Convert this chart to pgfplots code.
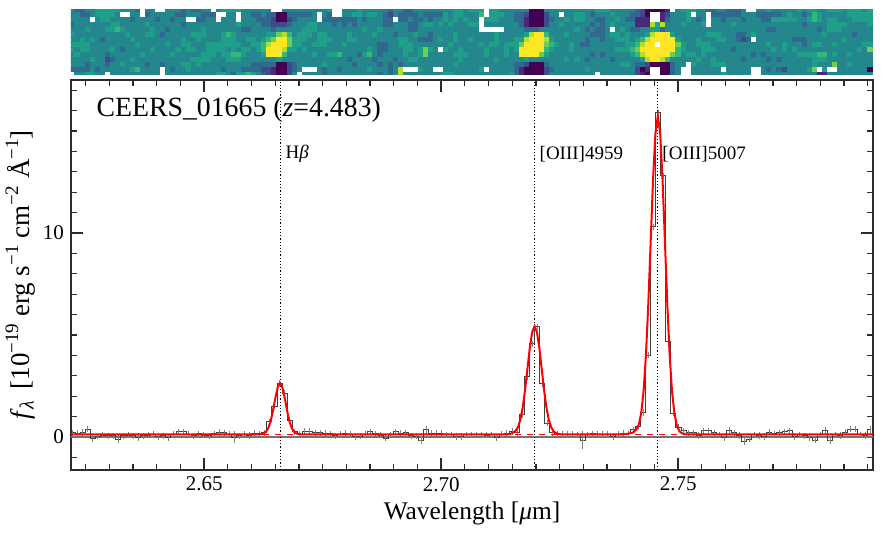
\documentclass[border=0pt]{standalone}
\usepackage{fontspec}
\setmainfont{Liberation Serif}
\usepackage{pgfplots}
\usepackage{pgfplotstable}
\pgfplotsset{compat=1.18}
\definecolor{axisgray}{HTML}{2B2B2B}

% 2D spectrum: one line per image column, r0 is the top row, 10 = no data (white)
\pgfplotstableread{
j r0 r1 r2 r3 r4 r5 r6 r7 r8 r9 r10 r11 r12 r13
0 4 4 4 3 4 5 4 5 5 4 4 4 3 10
1 3 4 4 4 4 4 4 5 4 5 4 4 3 4
2 3 3 4 4 4 4 5 5 5 4 4 4 3 4
3 4 3 4 4 5 4 4 5 5 4 4 3 3 5
4 4 4 10 4 4 4 5 4 4 4 5 4 4 5
5 5 5 4 4 4 4 4 4 4 4 4 4 3 4
6 5 5 5 4 4 4 3 4 4 4 4 4 4 4
7 5 5 5 4 5 4 4 4 4 3 2 3 4 10
8 5 5 4 5 5 4 4 4 5 4 3 4 4 4
9 5 4 4 5 6 4 4 4 4 4 4 4 4 4
10 4 10 4 4 5 4 4 4 3 4 4 5 4 4
11 4 10 4 4 4 5 4 4 4 4 4 4 4 4
12 4 4 3 4 4 4 5 4 4 4 5 4 5 4
13 3 4 4 4 4 4 4 5 4 4 4 4 6 4
14 10 10 4 4 4 4 4 4 4 5 4 4 4 4
15 4 3 4 5 4 5 4 4 4 4 4 3 4 4
16 4 4 4 4 5 5 4 4 5 4 4 4 4 4
17 10 4 3 4 4 4 4 4 4 4 4 4 4 4
18 10 4 4 4 4 3 4 4 4 4 4 3 10 10
19 4 4 4 4 3 4 4 5 4 4 4 4 4 4
20 4 4 3 4 4 4 4 4 4 5 4 4 3 4
21 4 3 4 4 4 4 4 4 5 4 4 4 4 4
22 3 3 4 3 4 4 5 5 4 4 4 5 4 4
23 4 4 10 4 4 4 4 5 5 4 4 5 5 4
24 3 4 10 4 4 5 4 4 5 4 5 4 4 4
25 3 4 3 4 4 5 5 4 4 4 5 5 4 4
26 4 3 3 4 5 5 4 4 4 5 5 4 4 4
27 4 3 4 4 4 4 4 5 5 5 5 4 4 4
28 10 3 4 4 4 4 4 5 5 5 4 4 4 4
29 4 10 10 4 4 4 4 5 5 4 4 4 4 5
30 5 10 4 4 4 5 5 5 5 5 4 4 3 5
31 5 4 4 4 4 6 5 5 4 5 5 4 4 4
32 5 4 4 4 4 5 5 5 5 6 5 4 4 3
33 5 10 10 5 4 4 4 5 4 6 5 4 4 5
34 4 4 4 4 3 4 4 4 5 5 4 4 3 5
35 4 4 4 4 3 4 5 4 5 4 4 4 3 6
36 4 3 4 4 4 4 5 5 4 4 4 3 3 5
37 4 3 3 4 4 4 4 5 5 4 4 3 3 4
38 4 4 3 3 4 4 5 6 6 5 4 3 2 3
39 4 3 3 3 4 5 6 8 9 9 4 3 2 2
40 10 3 2 2 3 5 7 9 9 9 4 3 1 1
41 10 0 0 2 4 7 9 9 9 9 5 0 0 0
42 4 0 0 2 4 8 9 9 8 6 4 0 0 0
43 4 3 2 3 4 6 7 7 5 4 4 2 2 2
44 4 3 3 4 4 4 5 5 5 4 4 3 3 4
45 4 3 4 4 4 5 5 5 4 4 4 4 4 10
46 4 3 4 4 5 5 5 4 5 4 4 4 10 4
47 4 3 4 5 5 5 4 4 4 4 4 4 10 4
48 4 4 4 5 5 4 4 5 4 5 4 4 10 4
49 4 10 10 4 4 5 5 5 4 4 4 4 4 4
50 4 4 3 4 4 5 5 5 4 4 4 5 3 3
51 5 3 3 4 4 4 5 4 4 5 4 4 4 4
52 10 10 3 3 4 4 4 4 4 5 4 4 4 4
53 10 10 3 4 4 4 4 4 4 6 4 4 3 4
54 4 4 3 3 4 4 4 5 4 4 4 4 4 4
55 4 4 3 4 4 5 5 4 4 4 3 4 4 4
56 4 5 3 3 4 4 5 4 4 4 4 3 4 4
57 5 5 4 4 4 4 4 4 4 3 4 4 4 4
58 4 4 3 4 5 4 4 4 4 5 4 4 4 4
59 4 5 4 4 4 4 4 4 5 6 4 4 5 4
60 4 5 4 4 4 5 4 4 4 4 3 4 4 4
61 4 4 4 4 5 4 4 3 3 3 4 3 4 3
62 4 3 3 3 4 4 4 3 3 4 4 4 4 4
63 3 2 3 3 4 4 4 4 4 4 4 3 3 3
64 4 4 10 4 4 3 4 4 4 4 3 4 4 4
65 4 3 3 4 4 4 5 5 4 4 4 3 8 8
66 3 3 3 4 4 4 5 5 5 5 4 4 10 4
67 3 3 4 3 3 4 4 5 5 4 5 4 10 4
68 4 3 3 3 3 5 4 4 4 4 5 4 10 4
69 4 4 3 4 4 4 3 4 5 5 4 4 5 4
70 4 3 4 5 4 4 3 4 7 7 4 4 4 4
71 4 3 3 5 4 3 3 4 5 4 4 4 4 4
72 4 3 4 4 4 4 4 4 4 4 4 4 10 4
73 4 3 4 5 4 4 5 4 10 4 4 4 10 4
74 4 5 5 4 4 4 4 4 5 4 4 4 4 5
75 4 4 4 5 4 4 4 5 4 4 4 4 4 5
76 5 5 5 4 4 5 5 4 4 5 4 5 4 4
77 5 5 4 4 4 4 4 4 5 5 5 4 4 4
78 4 4 5 4 4 4 4 4 4 5 4 4 4 4
79 5 4 4 5 4 4 5 4 4 4 4 4 4 4
80 5 4 4 5 4 4 4 4 4 4 4 4 4 4
81 5 6 10 10 10 4 4 5 4 4 4 4 5 4
82 10 10 5 4 10 4 4 4 5 5 4 4 10 4
83 5 5 5 4 10 4 4 5 4 4 4 4 4 4
84 5 5 5 4 10 5 5 5 4 4 5 4 4 4
85 4 5 4 4 10 4 4 4 4 4 4 4 4 4
86 4 4 4 4 4 4 4 5 5 5 4 4 4 4
87 4 4 4 4 4 4 4 5 4 4 4 4 4 5
88 4 3 3 4 4 4 5 5 5 4 4 3 3 3
89 4 3 3 3 4 4 5 7 9 9 4 3 1 1
90 4 2 1 1 3 5 8 9 9 9 5 2 0 0
91 0 0 0 0 3 8 9 9 9 9 4 0 0 0
92 0 0 0 0 3 9 9 9 9 9 4 0 0 0
93 0 0 0 0 4 9 9 9 9 7 4 0 0 0
94 4 2 2 2 4 6 8 7 6 5 4 3 2 2
95 4 4 3 4 4 4 5 6 5 4 4 4 3 4
96 4 4 4 4 4 4 4 5 4 4 4 4 4 4
97 4 10 4 5 4 4 4 4 4 4 4 4 4 4
98 4 4 5 4 4 5 4 4 4 4 5 4 4 4
99 4 4 4 4 4 4 4 5 5 4 4 4 4 4
100 4 5 5 4 5 4 4 4 4 4 5 4 4 4
101 4 5 5 4 4 4 4 3 4 4 4 4 4 4
102 4 4 4 4 3 4 3 3 4 4 3 4 5 4
103 4 3 4 3 4 3 4 4 4 3 4 4 4 4
104 5 4 3 4 3 3 4 4 4 4 4 4 4 10
105 5 4 3 3 3 3 3 4 4 3 4 4 4 4
106 5 4 4 4 4 4 4 4 4 4 4 4 4 4
107 4 5 4 5 10 5 4 4 4 4 3 4 4 4
108 4 4 5 4 4 5 5 4 5 4 4 4 4 4
109 4 4 4 4 5 4 5 4 5 4 4 5 4 4
110 4 4 3 4 4 5 5 5 5 4 4 5 4 4
111 4 3 3 4 3 4 4 5 6 5 4 4 4 4
112 3 3 1 1 3 4 5 6 7 6 4 3 2 2
113 2 2 1 1 4 4 6 8 9 8 5 3 0 1
114 0 0 1 1 4 5 8 9 9 9 8 2 1 0
115 0 10 10 8 5 8 9 9 9 9 9 0 10 10
116 0 10 10 5 5 9 9 10 9 9 9 0 10 10
117 0 1 1 8 3 9 9 9 9 9 8 0 0 0
118 1 2 3 4 4 9 9 9 9 9 6 0 0 0
119 10 4 4 4 4 5 9 9 9 7 4 3 3 3
120 4 4 4 4 4 4 5 7 6 6 4 4 4 4
121 5 4 4 5 4 4 4 5 5 4 4 4 10 10
122 5 5 5 4 4 4 4 4 4 5 4 10 10 10
123 5 10 4 4 4 4 4 4 4 5 4 5 4 4
124 4 4 3 4 4 4 5 5 4 4 5 4 4 4
125 4 4 4 5 4 4 4 5 5 5 4 4 4 4
126 3 10 10 10 4 5 4 5 5 4 4 4 4 4
127 3 3 4 4 4 5 4 4 5 4 5 5 4 4
128 4 3 4 4 4 5 5 4 4 4 4 5 4 4
129 4 3 3 4 4 4 5 4 4 4 4 5 10 5
130 3 3 4 4 4 4 4 4 4 4 4 4 4 4
131 3 3 4 5 4 4 4 4 3 4 4 4 4 4
132 3 3 4 4 4 3 3 4 4 4 4 4 4 4
133 4 4 3 4 4 3 2 4 4 4 3 4 4 4
134 10 4 4 4 4 4 3 4 4 4 4 4 4 4
135 10 4 4 4 4 5 10 4 4 3 4 4 10 10
136 4 3 4 4 4 4 4 4 4 4 4 4 10 10
137 4 3 3 4 4 4 4 4 4 3 4 4 4 4
138 5 3 3 4 3 4 4 5 4 4 3 4 3 4
139 4 3 5 4 3 4 4 4 5 4 4 4 4 4
140 4 3 5 4 4 4 4 4 4 4 3 4 3 4
141 4 4 5 4 4 4 4 5 5 4 4 4 2 4
142 4 5 5 4 4 4 4 4 4 4 4 4 4 4
143 4 4 5 4 4 4 3 4 5 4 4 4 4 4
144 5 4 4 4 4 4 3 4 4 5 4 4 4 4
145 4 3 4 3 4 4 3 3 4 5 4 4 4 4
146 5 4 5 4 4 4 4 4 4 5 4 4 5 4
147 5 6 6 4 4 4 4 5 4 5 5 5 7 4
148 4 5 5 4 3 4 4 5 4 6 5 4 10 1
149 4 4 4 4 4 5 4 4 4 6 5 4 5 1
150 5 4 5 5 5 4 4 4 4 4 4 4 10 4
151 5 4 5 5 5 4 4 5 4 5 4 7 10 4
152 5 4 4 5 5 4 4 4 4 4 4 4 4 4
153 4 4 4 5 4 4 5 4 4 4 4 4 4 4
154 5 5 4 4 4 4 4 4 4 5 4 5 4 4
155 5 5 5 4 4 3 4 4 4 4 4 4 4 4
156 5 5 5 4 4 4 4 4 5 4 4 4 4 4
157 4 5 5 4 4 4 4 5 4 4 4 4 4 4
158 5 5 5 5 4 4 4 5 7 4 4 4 0 4
}\imgdata

% 1D spectrum: wavelength, flux, error
\pgfplotstableread{
x y e
2.62221 0.20 0.15
2.62328 0.18 0.15
2.62434 0.22 0.15
2.62541 0.38 0.15
2.62647 -0.05 0.20
2.62754 0.03 0.15
2.62860 0.08 0.15
2.62967 0.05 0.15
2.63073 0.06 0.15
2.63180 -0.10 0.18
2.63286 0.05 0.15
2.63393 0.08 0.15
2.63499 0.05 0.15
2.63606 -0.01 0.18
2.63712 0.05 0.15
2.63819 0.09 0.15
2.63926 0.13 0.15
2.64032 0.00 0.15
2.64139 0.06 0.15
2.64245 -0.02 0.18
2.64352 0.12 0.15
2.64458 0.26 0.15
2.64565 0.26 0.15
2.64671 0.12 0.15
2.64778 0.05 0.15
2.64884 0.16 0.15
2.64991 0.08 0.15
2.65098 0.05 0.15
2.65204 0.15 0.15
2.65311 0.22 0.15
2.65417 0.20 0.15
2.65524 0.12 0.15
2.65630 -0.02 0.30
2.65737 0.06 0.15
2.65843 0.14 0.15
2.65950 0.07 0.15
2.66056 0.18 0.15
2.66163 0.15 0.15
2.66270 0.20 0.15
2.66376 0.75 0.15
2.66483 1.50 0.15
2.66589 2.64 0.15
2.66696 2.15 0.15
2.66802 0.83 0.15
2.66909 0.26 0.15
2.67015 0.12 0.15
2.67122 0.28 0.15
2.67228 0.28 0.15
2.67335 0.20 0.15
2.67441 0.20 0.15
2.67548 0.18 0.15
2.67655 0.15 0.15
2.67761 0.05 0.15
2.67868 0.12 0.15
2.67974 0.18 0.15
2.68081 0.12 0.15
2.68187 0.02 0.15
2.68294 0.04 0.15
2.68400 0.12 0.15
2.68507 0.26 0.15
2.68613 0.16 0.15
2.68720 0.08 0.15
2.68827 -0.07 0.15
2.68933 0.10 0.15
2.69040 0.26 0.15
2.69146 0.18 0.15
2.69253 0.20 0.15
2.69359 0.05 0.15
2.69466 0.03 0.15
2.69572 -0.15 0.18
2.69679 0.35 0.20
2.69785 0.18 0.18
2.69892 0.18 0.15
2.69998 0.18 0.15
2.70105 0.10 0.15
2.70212 0.10 0.15
2.70318 0.02 0.15
2.70425 0.02 0.15
2.70531 0.10 0.15
2.70638 0.10 0.15
2.70744 0.10 0.15
2.70851 0.10 0.15
2.70957 0.08 0.15
2.71064 0.10 0.15
2.71170 -0.02 0.18
2.71277 0.12 0.15
2.71383 0.18 0.15
2.71490 0.26 0.18
2.71597 0.22 0.15
2.71703 1.08 0.15
2.71810 2.95 0.15
2.71916 4.57 0.15
2.72023 5.40 0.15
2.72129 2.60 0.15
2.72236 0.67 0.15
2.72342 0.20 0.15
2.72449 0.16 0.15
2.72555 0.12 0.15
2.72662 0.12 0.15
2.72768 0.12 0.15
2.72875 0.10 0.15
2.72982 -0.15 0.45
2.73088 0.10 0.15
2.73195 0.16 0.15
2.73301 0.12 0.15
2.73408 0.12 0.15
2.73514 0.12 0.15
2.73621 0.02 0.15
2.73727 0.13 0.15
2.73834 0.18 0.15
2.73940 0.15 0.15
2.74047 0.35 0.15
2.74154 0.50 0.15
2.74260 1.20 0.15
2.74367 4.00 0.15
2.74473 10.30 0.15
2.74580 15.90 0.15
2.74686 12.80 0.15
2.74793 4.70 0.15
2.74899 1.17 0.15
2.75006 0.48 0.15
2.75112 0.30 0.15
2.75219 0.20 0.15
2.75325 0.20 0.15
2.75432 0.07 0.15
2.75539 0.30 0.15
2.75645 0.30 0.15
2.75752 0.20 0.15
2.75858 0.10 0.15
2.75965 -0.03 0.15
2.76071 0.30 0.18
2.76178 0.20 0.15
2.76284 0.07 0.15
2.76391 -0.20 0.18
2.76497 -0.10 0.15
2.76604 0.10 0.15
2.76711 0.07 0.15
2.76817 0.02 0.15
2.76924 0.23 0.15
2.77030 0.15 0.15
2.77137 0.20 0.15
2.77243 0.26 0.15
2.77350 0.30 0.15
2.77456 0.02 0.15
2.77563 0.10 0.15
2.77669 0.05 0.15
2.77776 -0.03 0.15
2.77883 -0.15 0.15
2.77989 0.10 0.15
2.78096 0.30 0.20
2.78202 -0.15 0.18
2.78309 0.10 0.15
2.78415 0.07 0.15
2.78522 0.23 0.15
2.78628 0.38 0.15
2.78735 0.38 0.15
2.78841 0.10 0.15
2.78948 0.07 0.15
2.79054 0.35 0.20
}\specdata

% fitted model
\pgfplotstableread{
x y
2.6219 0.13
2.6615 0.13
2.6620 0.14
2.6625 0.17
2.6630 0.24
2.6635 0.42
2.6640 0.75
2.6645 1.28
2.6650 1.90
2.6655 2.42
2.6660 2.63
2.6665 2.42
2.6670 1.90
2.6675 1.28
2.6680 0.75
2.6685 0.42
2.6690 0.24
2.6695 0.17
2.6700 0.14
2.6705 0.13
2.7140 0.13
2.7147 0.16
2.7152 0.22
2.7157 0.30
2.7162 0.48
2.7167 0.85
2.7172 1.45
2.7177 2.31
2.7182 3.35
2.7187 4.38
2.7192 5.14
2.7197 5.43
2.7202 5.14
2.7207 4.38
2.7212 3.35
2.7217 2.31
2.7222 1.45
2.7227 0.85
2.7232 0.48
2.7237 0.28
2.7242 0.19
2.7247 0.15
2.7252 0.13
2.7385 0.13
2.7395 0.16
2.7405 0.22
2.7412 0.38
2.7417 0.62
2.7422 1.16
2.7427 2.24
2.7432 4.01
2.7437 6.54
2.7442 9.60
2.7447 12.63
2.7452 14.89
2.7457 15.73
2.7462 14.89
2.7467 12.63
2.7472 9.60
2.7477 6.54
2.7482 4.01
2.7487 2.24
2.7492 1.16
2.7497 0.58
2.7502 0.30
2.7507 0.19
2.7512 0.15
2.7517 0.13
2.7911 0.13
}\modeldata

\begin{document}
\begin{tikzpicture}
\useasboundingbox (-35.5pt,-32pt) rectangle (410pt,235pt);

% 2D spectrum panel
\begin{axis}[
    at={(0pt,197.5pt)}, anchor=south west,
    scale only axis, width=401pt, height=32.5pt,
    hide axis,
    y dir=reverse,
    xmin=-0.2, xmax=158.6,
    ymin=0.17, ymax=13.17,
    clip marker paths=true,
    point meta min=0, point meta max=10,
    colormap={vw}{rgb255=(68,1,84) rgb255=(72,40,120) rgb255=(62,74,137) rgb255=(49,104,142)
        rgb255=(36,135,142) rgb255=(31,158,137) rgb255=(53,183,121) rgb255=(109,205,89)
        rgb255=(180,222,44) rgb255=(253,231,37) rgb255=(255,255,255)},
]
% top row is cut by the frame: keep its centre just inside so the marks are not dropped
\pgfplotsinvokeforeach{0,...,13}{
    \addplot[scatter, only marks, mark=square*, mark size=1.27pt,
        scatter/use mapped color={draw=mapped color, fill=mapped color},
        mark options={line width=0.05pt}, point meta=\thisrow{r#1}]
        table[x=j, y expr={max(#1,0.18)}] {\imgdata};
}
\end{axis}

% 1D spectrum panel
\begin{axis}[
    at={(0pt,0pt)}, anchor=south west,
    scale only axis, width=401pt, height=195pt,
    xmin=2.6219, xmax=2.7911,
    ymin=-1.62, ymax=17.5,
    axis line style={axisgray, line width=0.9pt},
    tick align=inside,
    tick style={axisgray},
    major tick style={line width=0.7pt},
    minor tick style={line width=0.6pt},
    major tick length=6pt,
    minor tick length=3.2pt,
    xtick={2.65,2.70,2.75},
    xticklabels={2.65,2.70,2.75},
    minor xtick={2.625,2.63,2.635,2.64,2.645,2.655,2.66,2.665,2.67,2.675,2.68,2.685,2.69,2.695,2.705,2.71,2.715,2.72,2.725,2.73,2.735,2.74,2.745,2.755,2.76,2.765,2.77,2.775,2.78,2.785,2.79},
    ytick={0,10},
    minor ytick={-1,1,2,3,4,5,6,7,8,9,11,12,13,14,15,16,17},
    /pgf/number format/assume math mode=true,
    tick label style={font=\fontsize{10.5}{12}\selectfont},
    xlabel={Wavelength [\textit{μ}m]},
    ylabel={\textit{f}\raisebox{-0.35ex}{\fontsize{10}{10}\selectfont\textit{λ}}\, [10\raisebox{0.9ex}{\fontsize{9.5}{10}\selectfont −19} erg s\raisebox{0.9ex}{\fontsize{9.5}{10}\selectfont −1} cm\raisebox{0.9ex}{\fontsize{9.5}{10}\selectfont −2} Å\raisebox{0.9ex}{\fontsize{9.5}{10}\selectfont −1}]},
    xlabel style={font=\fontsize{12.7}{14}\selectfont, yshift=1.5pt},
    ylabel style={font=\fontsize{13.5}{15}\selectfont, yshift=-3pt},
]
\addplot[black!55, line width=1pt, forget plot] coordinates {(2.6219,0) (2.7911,0)};
\addplot[black, densely dotted, line width=0.6pt, forget plot] coordinates {(2.66603,-1.62) (2.66603,17.5)};
\addplot[black, densely dotted, line width=0.6pt, forget plot] coordinates {(2.71962,-1.62) (2.71962,17.5)};
\addplot[black, densely dotted, line width=0.6pt, forget plot] coordinates {(2.74570,-1.62) (2.74570,17.5)};
\addplot[black!75, line width=0.45pt, const plot mark mid, no marks,
    error bars/.cd, y dir=both, y explicit, error mark=none,
    error bar style={gray, line width=0.3pt}]
    table[x=x, y=y, y error=e] {\specdata};
\addplot[red, dashed, line width=0.5pt] coordinates {(2.6219,0.13) (2.7911,0.13)};
\addplot[red, line width=1pt] table[x=x, y=y] {\modeldata};
\node[anchor=west, inner sep=0pt, font=\fontsize{13.9}{15}\selectfont] at (axis cs:2.6272,16.02) {CEERS\_01665 (\textit{z}=4.483)};
\node[anchor=west, inner sep=0pt, font=\fontsize{9.5}{11}\selectfont] at (axis cs:2.6671,13.87) {H\textit{β}};
\node[anchor=west, inner sep=0pt, font=\fontsize{9.5}{11}\selectfont] at (axis cs:2.7207,13.87) {[OIII]4959};
\node[anchor=west, inner sep=0pt, font=\fontsize{9.5}{11}\selectfont] at (axis cs:2.7466,13.87) {[OIII]5007};
\end{axis}
\end{tikzpicture}
\end{document}
